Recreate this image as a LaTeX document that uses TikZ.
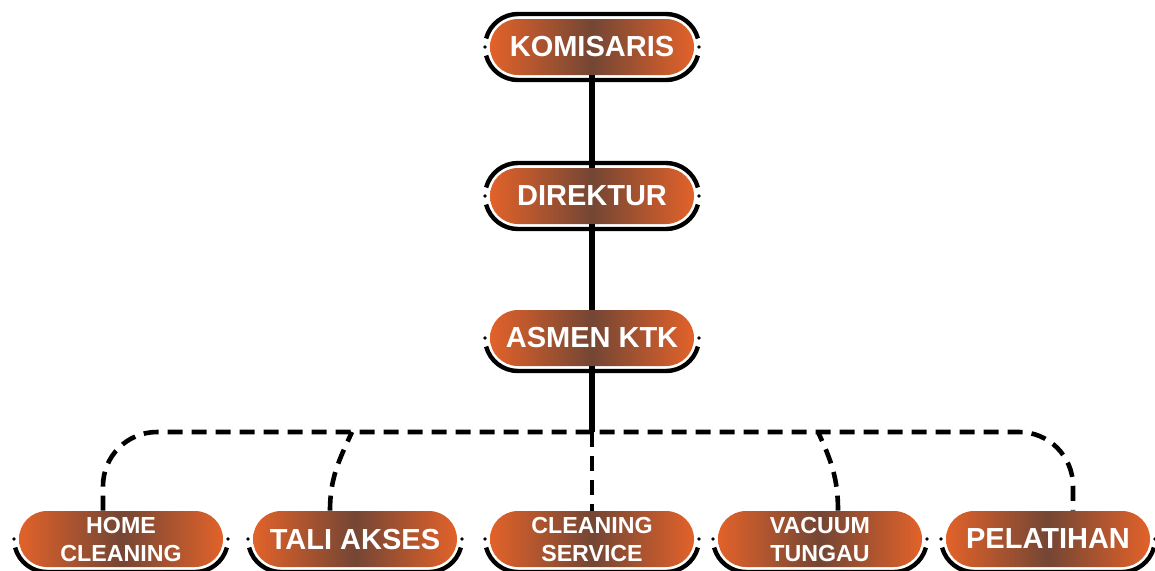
\documentclass[tikz,border=0pt]{standalone}
\usepackage{fontspec}
\setmainfont{Liberation Sans}
\usetikzlibrary{positioning}
\definecolor{boxorange}{HTML}{E2622A}
\definecolor{boxbrown}{HTML}{744634}
\begin{document}
\begin{tikzpicture}[x=0.5pt,y=0.5pt]
      \tikzstyle{onode} = [rectangle, rounded corners=14pt, minimum width=102pt, minimum height=28pt, inner sep=0pt,
        left color=boxorange, right color=boxorange, middle color=boxbrown,
        text=white, align=center, font=\bfseries\fontsize{14.5}{16}\selectfont]
      \tikzstyle{snode} = [onode, font=\bfseries\fontsize{11.6}{14}\selectfont]
      \tikzstyle{ring} = [line width=2.2pt, black]
      \tikzstyle{link} = [line width=2.6pt, black]
      \tikzstyle{bus} = [line width=2.3pt, black, dash pattern=on 7.5pt off 4.5pt]
      \useasboundingbox (0,0) rectangle (1155,-570);

      \node[onode] (kom) at (592,-47) {KOMISARIS};
      \node[onode] (dir) at (592,-196) {DIREKTUR};
      \node[onode] (asm) at (592,-338) {ASMEN KTK};
      \node[snode] (hc) at (121,-539) {HOME\\CLEANING};
      \node[onode] (ta) at (355,-539) {TALI AKSES};
      \node[snode] (cs) at (592,-539) {CLEANING\\SERVICE};
      \node[snode] (vt) at (820,-539) {VACUUM\\TUNGAU};
      \node[onode] (pl) at (1048,-539) {PELATIHAN};

      % outlines round the boxes
      \foreach \n in {kom,dir}
        \draw[ring] ([xshift=-37pt]\n.center) ++(165:33) arc[start angle=165, end angle=90, radius=16.5pt]
          -- ++(148,0) arc[start angle=90, end angle=15, radius=16.5pt];
      \foreach \n in {kom,dir,asm,hc,ta,cs,vt,pl} {
        \draw[ring] ([xshift=-37pt]\n.center) ++(195:33) arc[start angle=195, end angle=270, radius=16.5pt]
          -- ++(148,0) arc[start angle=270, end angle=345, radius=16.5pt];
        \fill ([xshift=-53.5pt]\n.center) circle (0.9pt);
        \fill ([xshift=53.5pt]\n.center) circle (0.9pt);
      }

      \coordinate (bus) at (592,-432);
      \coordinate (lc) at (103,-432);
      \coordinate (rc) at (1073,-432);
      \coordinate (tj) at (352,-432);
      \coordinate (vj) at (818,-432);

      \draw[link] (kom) to (dir);
      \draw[link] (dir) to (asm);
      \draw[link] (asm) to (bus);
      \draw[bus] (bus) to (cs);
      \draw[bus, rounded corners=27pt] ([xshift=-9pt]hc.north) -- (lc) -- (rc) -- ([xshift=12.5pt]pl.north);
      \draw[bus] ([xshift=-12.5pt]ta.north) to[out=90, in=-115] (tj);
      \draw[bus] ([xshift=9pt]vt.north) to[out=90, in=-65] (vj);
\end{tikzpicture}
\end{document}
